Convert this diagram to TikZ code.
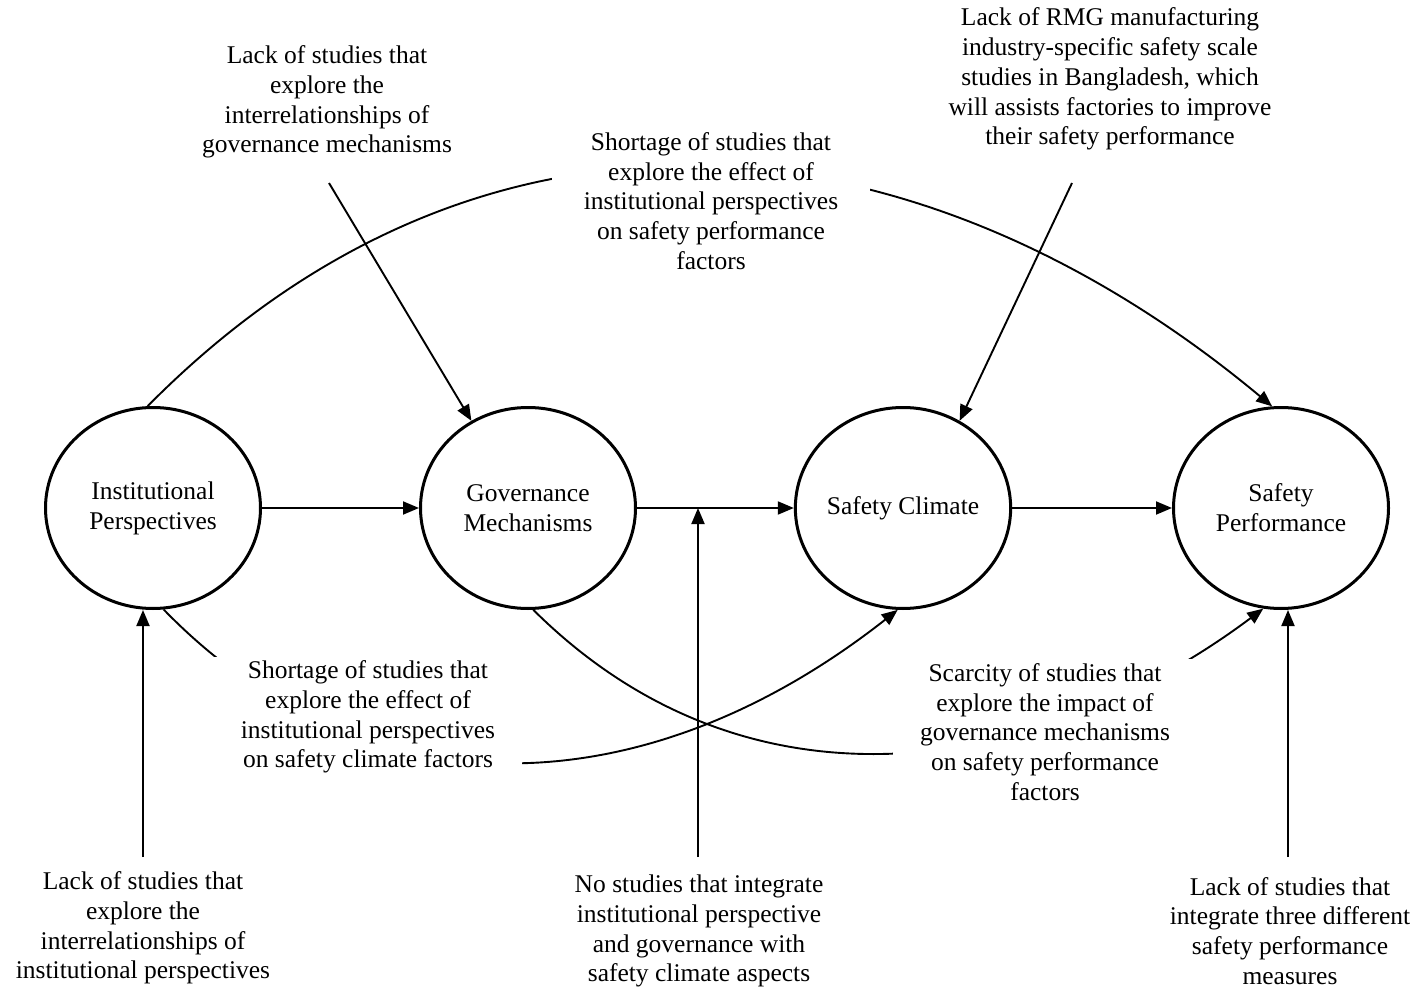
\documentclass[tikz,border=0pt]{standalone}
\usepackage{fontspec}
\setmainfont{Liberation Serif}
\usetikzlibrary{shapes.geometric,arrows.meta}
\begin{document}
\begin{tikzpicture}[x=1pt,y=-1pt,
  every node/.style={font=\fontsize{25.5pt}{29.8pt}\selectfont},
  construct/.style={draw, ellipse, line width=3pt, minimum width=215pt,
    minimum height=201pt, inner sep=0pt, align=center},
  note/.style={align=center, inner sep=0pt},
  gapnote/.style={note, fill=white, inner ysep=4pt},
  link/.style={line width=1.9pt, -{Triangle[length=16pt,width=13pt]}}]
\useasboundingbox (0,0) rectangle (1422,992);

% the four constructs
\node[construct] (ip)  at (153,508)  {Institutional\\Perspectives};
\node[construct] (gov) at (528,508)  {Governance\\Mechanisms};
\node[construct] (sc)  at (903,508)  {Safety Climate};
\node[construct] (sp)  at (1281,508) {Safety\\Performance};

% long curved links (interrupted by their labels below)
\draw[link] (ip.93)  .. controls (487,63)  and (920,113)  .. (sp.95);
\draw[link] (ip.-84) .. controls (364,816) and (643,810)  .. (sc.-93);
\draw[link] (gov.-87) .. controls (753,828) and (1045,772) .. (sp.-100);

% labels that sit on the curved links
\node[gapnote, minimum width=318pt] (n3) at (711,201)
  {Shortage of studies that\\explore the effect of\\institutional perspectives\\on safety performance\\factors};
\node[gapnote, minimum width=308pt] (n4) at (368,717)
  {Shortage of studies that\\explore the effect of\\institutional perspectives\\on safety climate factors};
\node[gapnote, minimum width=305pt] (n5) at (1045,732)
  {Scarcity of studies that\\explore the impact of\\governance mechanisms\\on safety performance\\factors};

% free-standing gap notes
\node[note] (n1) at (327,102)
  {Lack of studies that\\explore the\\interrelationships of\\governance mechanisms};
\node[note] (n2) at (1110,79)
  {Lack of RMG manufacturing\\industry-specific safety scale\\studies in Bangladesh, which\\will assists factories to improve\\their safety performance};
\node[note] (n6) at (143,928)
  {Lack of studies that\\explore the\\interrelationships of\\institutional perspectives};
\node[note] (n7) at (699,931)
  {No studies that integrate\\institutional perspective\\and governance with\\safety climate aspects};
\node[note] (n8) at (1290,931)
  {Lack of studies that\\integrate three different\\safety performance\\measures};

% free ends of the straight pointers
\coordinate (g0) at (329,183);
\coordinate (s0) at (1072,183);
\coordinate (i0) at (143,857);
\coordinate (m0) at (698,857);
\coordinate (p0) at (1288,857);

% main chain
\draw[link] (ip.east)  -- (gov.west);
\draw[link] (gov.east) -- (sc.west);
\draw[link] (sc.east)  -- (sp.west);

% pointers from the notes
\draw[link] (g0) -- (gov.123);
\draw[link] (s0) -- (sc.57);
\draw[link] (i0) -- (i0 |- ip.south);
\draw[link] (m0) -- (m0 |- gov.east);
\draw[link] (p0) -- (p0 |- sp.south);
\end{tikzpicture}
\end{document}
